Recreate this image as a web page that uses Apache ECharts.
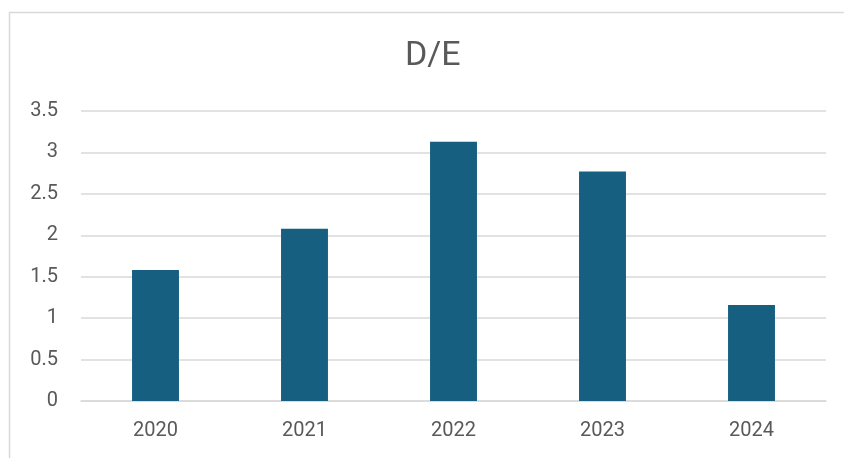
<!DOCTYPE html>
<html>
<head>
<meta charset="utf-8">
<script src="https://cdn.jsdelivr.net/npm/echarts@6/dist/echarts.min.js"></script>
<style>
html,body{margin:0;padding:0;background:#fff;}
#chart{width:844px;height:458px;}
</style>
</head>
<body>
<div id="chart"></div>
<script>
const categories = ['2020', '2021', '2022', '2023', '2024'];
const deValues = [1.58, 2.08, 3.13, 2.77, 1.16];
const yTicks = { min: 0, max: 3.5, interval: 0.5 };
const titleText = 'D/E';

const chart = echarts.init(document.getElementById('chart'), null, { renderer: 'canvas' });
chart.setOption({
  backgroundColor: '#ffffff',
  animation: false,
  title: {
    text: titleText,
    left: 400,
    top: 34,
    textStyle: { fontFamily: 'Roboto', fontSize: 34, fontWeight: 'normal', color: '#595959' }
  },
  graphic: [{
    type: 'rect',
    shape: { x: 9.5, y: 12.5, width: 900, height: 500 },
    style: { fill: 'none', stroke: '#d9d9d9', lineWidth: 1.5 },
    silent: true
  }],
  grid: { left: 81, right: 18, top: 111, bottom: 57 },
  xAxis: {
    type: 'category',
    data: categories,
    axisLine: { show: true, lineStyle: { color: '#d9d9d9', width: 1.5 } },
    axisTick: { show: false },
    axisLabel: { color: '#595959', fontFamily: 'Roboto', fontSize: 20, margin: 20 }
  },
  yAxis: {
    type: 'value',
    min: yTicks.min,
    max: yTicks.max,
    interval: yTicks.interval,
    axisLine: { show: false },
    axisTick: { show: false },
    splitLine: { lineStyle: { color: '#d9d9d9', width: 1.5 } },
    axisLabel: { color: '#595959', fontFamily: 'Roboto', fontSize: 20, margin: 23 }
  },
  series: [{
    type: 'bar',
    data: deValues,
    barWidth: '31.5%',
    itemStyle: { color: '#175f80' }
  }]
});
</script>
</body>
</html>
